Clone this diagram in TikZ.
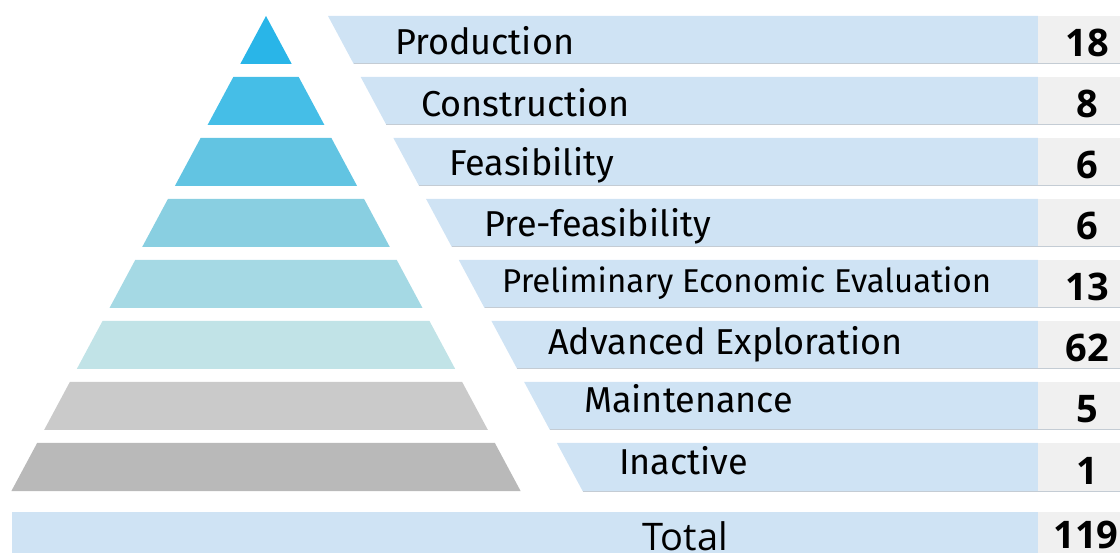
\documentclass[tikz,border=0pt]{standalone}
\usepackage{fontspec}
\setmainfont{Fira Sans}
\newfontfamily\numfont{Open Sans}

\definecolor{barblue}{HTML}{CFE3F4}
\definecolor{numgrey}{HTML}{F0F0F0}
\definecolor{edgegrey}{HTML}{C4CCD4}
\definecolor{layA}{HTML}{29B5E8}
\definecolor{layB}{HTML}{45BEE7}
\definecolor{layC}{HTML}{62C4E2}
\definecolor{layD}{HTML}{89CFE1}
\definecolor{layE}{HTML}{A5D9E4}
\definecolor{layF}{HTML}{C1E3E7}
\definecolor{layG}{HTML}{CACACA}
\definecolor{layH}{HTML}{B9B9B9}

\tikzset{
  stagelabel/.style={anchor=base west, inner sep=0pt},
  stagecount/.style={anchor=base, inner sep=0pt, font=\numfont\bfseries\fontsize{38}{38}\selectfont}
}

\begin{document}
\begin{tikzpicture}[x=1pt, y=-1pt]
\useasboundingbox (0,0) rectangle (1120,553);

% pyramid layers, label bars and counts
\foreach \i/\c/\t/\lx/\fs/\by/\n/\nm in {1/layA/Production/395/36/39/18/prod,
  2/layB/Construction/421/36/40/8/cons,
  3/layC/Feasibility/449/36/38/6/feas,
  4/layD/Pre-feasibility/484/36/38/6/prefeas,
  5/layE/Preliminary Economic Evaluation/502/33/33/13/pea,
  6/layF/Advanced Exploration/548/36/34/62/advexp,
  7/layG/Maintenance/584/36/31/5/maint,
  8/layH/Inactive/619/36/31/1/inact} {
  \pgfmathsetmacro\yt{16+61*(\i-1)}
  \pgfmathsetmacro\yb{\yt+48}
  \pgfmathsetmacro\wt{0.536*(\yt-16)}
  \pgfmathsetmacro\wb{0.536*(\yb-16)}
  \fill[\c] (266-\wt,\yt) -- (266+\wt,\yt) -- (266+\wb,\yb) -- (266-\wb,\yb) -- cycle;
  \fill[barblue] (328+\wt,\yt) -- (1038,\yt) -- (1038,\yb) -- (328+\wb,\yb) -- cycle;
  \fill[numgrey] (1038,\yt) rectangle (1120,\yb);
  \draw[edgegrey, line width=1pt] (328+\wb,\yb) -- (1120,\yb);
  \node[stagelabel, font=\fontsize{\fs}{\fs}\selectfont] (\nm) at (\lx,\yt+\by) {\t};
  \node[stagecount] (\nm-n) at (1087,\yt+41) {\n};
}

% total row
\fill[barblue] (12,512) rectangle (1038,553);
\fill[numgrey] (1038,512) rectangle (1120,553);
\node[anchor=base, inner sep=0pt, font=\numfont\fontsize{38}{38}\selectfont] (total) at (685,550) {Total};
\node[stagecount] (total-n) at (1086,548) {119};

\end{tikzpicture}
\end{document}
